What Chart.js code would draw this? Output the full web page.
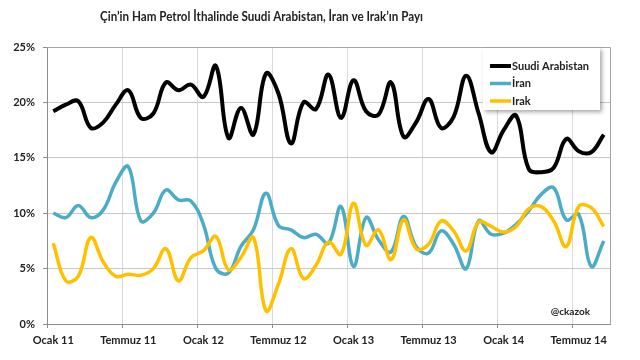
<!DOCTYPE html>
<html><head><meta charset="utf-8">
<script src="https://cdn.jsdelivr.net/npm/chart.js@4"></script>
<style>html,body{margin:0;padding:0;background:#fff}</style>
</head><body>
<canvas id="c" width="640" height="360"></canvas>
<script>
const chartTitle = 'Çin\u2019in Ham Petrol İthalinde Suudi Arabistan, İran ve Irak\u2019ın Payı';
const seriesNames = ['Suudi Arabistan', 'İran', 'Irak'];
const categories = [
 'Ocak 11','Şubat 11','Mart 11','Nisan 11','Mayıs 11','Haziran 11','Temmuz 11','Ağustos 11','Eylül 11','Ekim 11','Kasım 11','Aralık 11',
 'Ocak 12','Şubat 12','Mart 12','Nisan 12','Mayıs 12','Haziran 12','Temmuz 12','Ağustos 12','Eylül 12','Ekim 12','Kasım 12','Aralık 12',
 'Ocak 13','Şubat 13','Mart 13','Nisan 13','Mayıs 13','Haziran 13','Temmuz 13','Ağustos 13','Eylül 13','Ekim 13','Kasım 13','Aralık 13',
 'Ocak 14','Şubat 14','Mart 14','Nisan 14','Mayıs 14','Haziran 14','Temmuz 14','Ağustos 14','Eylül 14'
];
const suudi = [19.2,19.8,20.1,17.7,18.2,19.8,21.1,18.6,19.0,21.8,21.1,21.6,20.5,23.3,16.8,19.5,17.1,22.6,20.8,16.3,20.0,19.4,22.5,18.6,22.0,19.2,18.9,21.8,16.9,18.2,20.3,17.7,18.7,22.4,19.0,15.5,17.5,18.8,14.0,13.7,14.1,16.7,15.6,15.5,17.1];
const iran  = [10.0,9.6,10.7,9.6,10.3,12.8,14.2,9.3,10.0,12.1,11.2,11.1,9.0,5.0,4.6,7.0,8.5,11.8,8.9,8.5,7.8,8.1,7.3,10.6,5.2,9.6,7.6,6.5,9.7,7.0,6.4,8.4,7.2,5.0,9.3,8.1,8.2,9.0,10.2,11.7,12.3,9.4,9.9,5.2,7.5];
const irak  = [7.3,3.9,4.3,7.8,5.6,4.3,4.5,4.4,5.0,6.8,3.9,6.0,6.6,7.9,4.9,6.0,7.8,1.2,3.6,6.8,4.1,5.3,7.4,6.3,10.9,7.1,8.5,5.8,9.4,6.8,7.2,9.3,8.4,6.6,9.2,8.8,8.3,8.8,10.4,10.6,9.3,7.0,10.6,10.5,8.8];
const yMin = 0, yMax = 25, yStep = 5;
const labelEvery = 6;
const watermark = '@ckazok';

const FONT = 'Lato, "Open Sans", sans-serif';
const colors = ['#000000', '#4bacc6', '#ffc000'];

const titlePlugin = {
  id: 'customTitle',
  afterDraw(chart) {
    const ctx = chart.ctx;
    ctx.save();
    ctx.font = 'bold 13.5px ' + FONT;
    const w = ctx.measureText(chartTitle).width;
    const sx = Math.min(1, 323 / w);
    ctx.translate(261.5, 17);
    ctx.scale(sx, 1);
    ctx.fillStyle = '#222';
    ctx.textAlign = 'center';
    ctx.textBaseline = 'middle';
    ctx.fillText(chartTitle, 0, 0);
    ctx.restore();
  }
};

const framePlugin = {
  id: 'frame',
  afterDraw(chart) {
    const ctx = chart.ctx, a = chart.chartArea;
    ctx.save();
    ctx.strokeStyle = '#a6a6a6';
    ctx.lineWidth = 1;
    ctx.beginPath();
    ctx.moveTo(a.left, a.top + 0.5); ctx.lineTo(a.right + 0.5, a.top + 0.5); ctx.lineTo(a.right + 0.5, a.bottom);
    ctx.stroke();
    // watermark
    ctx.fillStyle = '#222';
    ctx.font = 'bold 10px ' + FONT;
    ctx.textAlign = 'right';
    ctx.textBaseline = 'middle';
    ctx.fillText(watermark, a.right - 20, a.bottom - 12);
    // legend
    const w = 117, h = 62;
    const x0 = a.right - w - 10, y0 = a.top + 1;
    ctx.save();
    ctx.shadowColor = 'rgba(0,0,0,0.35)';
    ctx.shadowBlur = 4; ctx.shadowOffsetX = 2; ctx.shadowOffsetY = 2;
    ctx.fillStyle = '#fff';
    ctx.fillRect(x0, y0, w, h);
    ctx.restore();
    ctx.font = 'bold 11px ' + FONT;
    ctx.textAlign = 'left';
    chart.data.datasets.forEach((ds, i) => {
      const yy = y0 + 18 + i * 17.5;
      ctx.strokeStyle = ds.borderColor;
      ctx.lineWidth = ds.borderWidth;
      ctx.beginPath(); ctx.moveTo(x0 + 7, yy); ctx.lineTo(x0 + 28, yy); ctx.stroke();
      ctx.fillStyle = '#222';
      ctx.fillText(ds.label, x0 + 29, yy);
    });
    ctx.restore();
  }
};

new Chart(document.getElementById('c'), {
  type: 'line',
  data: {
    labels: categories,
    datasets: [
      { label: seriesNames[0], data: suudi, borderColor: colors[0], backgroundColor: colors[0], borderWidth: 4, order: 3 },
      { label: seriesNames[1], data: iran, borderColor: colors[1], backgroundColor: colors[1], borderWidth: 3.5, order: 2 },
      { label: seriesNames[2], data: irak, borderColor: colors[2], backgroundColor: colors[2], borderWidth: 3.5, order: 1 }
    ]
  },
  options: {
    responsive: false,
    animation: false,
    layout: { padding: { left: 0, right: 30, top: 47, bottom: 0 } },
    elements: { point: { radius: 0 }, line: { tension: 0.4, capBezierPoints: true } },
    plugins: {
      legend: { display: false },
      tooltip: { enabled: false },
      title: { display: false }
    },
    scales: {
      x: {
        type: 'category',
        offset: true,
        afterFit(s) { s.height = 36; },
        grid: {
          offset: true,
          color: c => (c.index % labelEvery === 0 ? '#d9d9d9' : 'rgba(0,0,0,0)'),
          tickColor: c => (c.index % labelEvery === 0 ? '#8c8c8c' : 'rgba(0,0,0,0)'),
          tickLength: 4
        },
        border: { color: '#8c8c8c' },
        ticks: {
          autoSkip: false, maxRotation: 0, minRotation: 0, padding: 6,
          color: '#222', font: { family: FONT, size: 11, weight: 'bold' },
          callback: (v, i) => (i % labelEvery === 0 ? categories[i] : '')
        }
      },
      y: {
        min: yMin, max: yMax,
        afterFit(s) { s.width = 47; },
        grid: { color: '#c8c8c8', tickColor: '#8c8c8c', tickLength: 4 },
        border: { color: '#8c8c8c' },
        ticks: {
          stepSize: yStep, padding: 8, color: '#222',
          font: { family: FONT, size: 11, weight: 'bold' },
          callback: v => v + '%'
        }
      }
    }
  },
  plugins: [titlePlugin, framePlugin]
});
</script>
</body></html>
